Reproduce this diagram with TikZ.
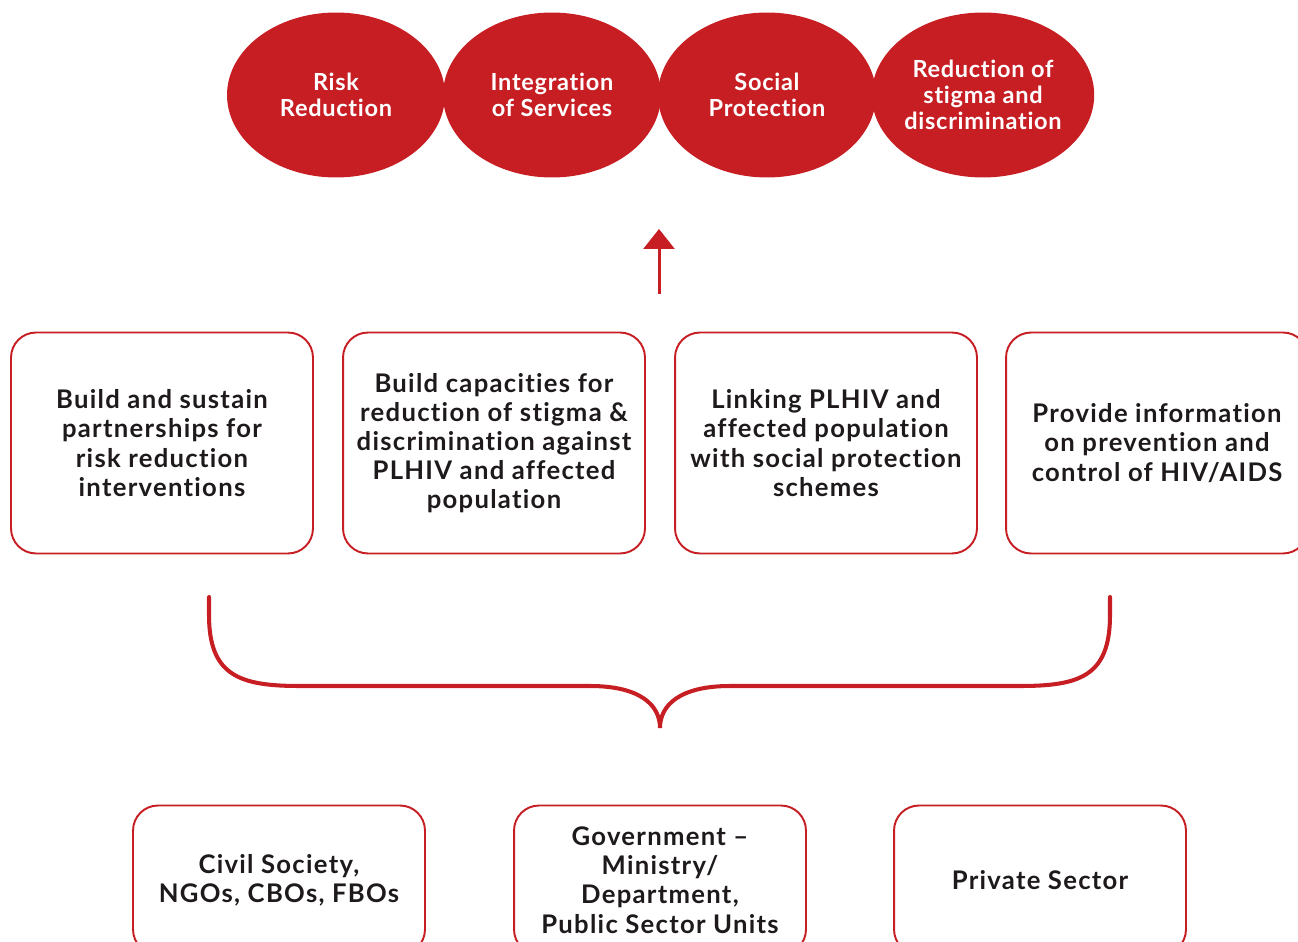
\documentclass[tikz,border=0pt]{standalone}
\usepackage{fontspec}
\setmainfont{Lato}
\newfontfamily\widelato[LetterSpace=5,Ligatures=NoCommon]{Lato}
\newfontfamily\goallato[LetterSpace=3,Ligatures=NoCommon]{Lato}
\usetikzlibrary{shapes.geometric,arrows.meta}

\definecolor{hivred}{HTML}{C71E24}
\definecolor{txtdark}{HTML}{1E1A1B}

\tikzset{
  goal/.style={ellipse,fill=hivred,text=white,inner sep=0pt,
    minimum width=4.36cm,minimum height=3.3cm,align=center,
    font=\goallato\bfseries\fontsize{13.4}{14.8}\selectfont},
  action/.style={draw=hivred,line width=1.1pt,rounded corners=0.5cm,
    minimum width=6.04cm,minimum height=4.42cm,align=center,text=txtdark,
    font=\widelato\bfseries\fontsize{14.6}{16.6}\selectfont},
  actor/.style={action,minimum width=5.84cm,minimum height=2.98cm},
  link/.style={draw=hivred,line width=2.3pt,line cap=round}
}

\begin{document}
\begin{tikzpicture}[x=0.02cm,y=-0.02cm]
  \useasboundingbox (0,0) rectangle (1298,942);
  % outcomes
  \node[goal] (risk) at (336,95) {Risk\\Reduction};
  \node[goal] (integ) at (552,95) {Integration\\of Services};
  \node[goal] (social) at (767,95) {Social\\Protection};
  \node[goal] (stigma) at (983,95) {Reduction of\\stigma and\\discrimination};
  % arrow up
  \coordinate (arrTail) at (659,294);
  \coordinate (arrHead) at (659,229);
  \draw[hivred,line width=1.7pt,-{Triangle[width=0.62cm,length=0.4cm]}] (arrTail) -- (arrHead);
  % strategies
  \node[action] (partner) at (162,443) {Build and sustain\\partnerships for\\risk reduction\\interventions};
  \node[action] (capac) at (494,443) {Build capacities for\\reduction of stigma \&\\discrimination against\\PLHIV and affected\\population};
  \node[action] (linking) at (826,443) {Linking PLHIV and\\affected population\\with social protection\\schemes};
  \node[action] (inform) at (1157,443) {Provide information\\on prevention and\\control of HIV/AIDS};
  % brace
  \coordinate (braceL) at (209,597);
  \coordinate (braceR) at (1110,597);
  \coordinate (braceTip) at (660,728);
  \draw[link] (braceL) -- (209,615) .. controls (209,676) and (240,686) .. (300,686)
    -- (590,686) .. controls (640,686) and (660,705) .. (braceTip)
    .. controls (660,705) and (680,686) .. (730,686)
    -- (1020,686) .. controls (1080,686) and (1110,676) .. (1110,615) -- (braceR);
  % actors
  \node[actor] (civil) at (279,880) {Civil Society,\\NGOs, CBOs, FBOs};
  \node[actor] (govt) at (660,880) {Government –\\Ministry/\\Department,\\Public Sector Units};
  \node[actor] (priv) at (1040,880) {Private Sector};
\end{tikzpicture}
\end{document}
